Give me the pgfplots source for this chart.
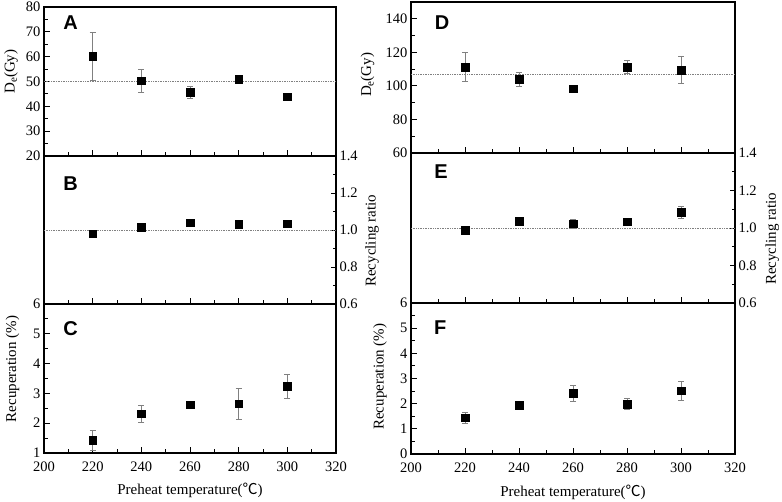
\documentclass[border=0pt]{standalone}
\usepackage{pgfplots}
\pgfplotsset{compat=1.18}
\usepackage{fontspec}
\setmainfont{Liberation Serif}
\newfontfamily\arialbf{Liberation Sans}[BoldFont={Liberation Sans Bold}]
\newfontfamily\cjk{Noto Sans CJK SC}
\newcommand\ticksize{\fontsize{14.5}{16}\selectfont}
\newcommand\labsize{\fontsize{15}{17}\selectfont}
\newcommand\De{D\raisebox{-0.35ex}{\fontsize{11}{11}\selectfont e}(Gy)}
\pgfplotsset{
  panel/.style={
    scale only axis, xmin=200, xmax=320,
    xtick={200,220,...,320}, minor xtick={210,230,...,310},
    tick align=inside, xtick pos=lower,
    axis line style={line width=1.2pt},
    every tick/.style={black, line width=0.9pt},
    major tick length=5.5pt, minor tick length=3.5pt,
    tick label style={font=\ticksize},
    xticklabel style={inner ysep=0.5pt, yshift=-8pt},
    yticklabel style={inner ysep=0.5pt},
    label style={font=\labsize},
    /pgf/number format/assume math mode=true,
    clip=false,
  },
  pts/.style={only marks, mark=square*, mark size=3.8pt, black,
    error bars/.cd, y dir=both, y explicit,
    error bar style={gray, line width=0.7pt},
    error mark options={rotate=90, mark size=3pt, line width=0.7pt, gray}},
  refl/.style={gray, densely dotted, line width=0.7pt, forget plot},
}
\newcommand\panellabel[3]{\node[font=\arialbf\bfseries\fontsize{20}{22}\selectfont, anchor=center] at (rel axis cs:#1,#2) {#3};}
\begin{document}
\begin{tikzpicture}
\path[use as bounding box] (0,0) rectangle (782pt,502pt);
% ---------------- A
\begin{axis}[panel, at={(44pt,346pt)}, anchor=south west, width=292pt, height=149pt,
  ymin=20, ymax=80, ytick={20,30,...,80}, minor ytick={25,35,...,75}, ytick pos=left, xticklabels={},
  ylabel={\De},
  ylabel style={at={(axis description cs:-0.113,0.566)}, anchor=center}]
\addplot[refl] coordinates {(200,50) (320,50)};
\addplot[pts] table[x=x, y=y, y error=e] {
x y e
220 60.1 9.6
240 50.3 4.7
260 45.7 2.5
280 50.9 0.8
300 43.8 1.3
};
\panellabel{0.091}{0.896}{A}
\end{axis}
% ---------------- B
\begin{axis}[panel, at={(44pt,198pt)}, anchor=south west, width=292pt, height=148pt,
  ymin=0.6, ymax=1.4, ytick={0.6,0.8,1.0,1.2,1.4}, minor ytick={0.7,0.9,1.1,1.3},
  ytick pos=right, yticklabel pos=right,
  yticklabel style={/pgf/number format/.cd, fixed, fixed zerofill, precision=1},
  xticklabels={},
  ylabel={Recycling ratio},
  ylabel style={at={(axis description cs:1.123,0.428)}, anchor=center}]
\addplot[refl] coordinates {(200,1) (320,1)};
\addplot[pts] table[x=x, y=y, y error=e] {
x y e
220 0.980 0.015
240 1.014 0.008
260 1.039 0.008
280 1.030 0.008
300 1.034 0.008
};
\panellabel{0.091}{0.816}{B}
\end{axis}
% ---------------- C
\begin{axis}[panel, at={(44pt,49pt)}, anchor=south west, width=292pt, height=149pt,
  ymin=1, ymax=6, ytick={1,2,3,4,5,6}, minor ytick={1.5,2.5,...,5.5}, ytick pos=left,
  ylabel={Recuperation (\%)},
  ylabel style={at={(axis description cs:-0.108,0.564)}, anchor=center},
  xlabel={Preheat temperature({\cjk ℃})},
  xlabel style={at={(axis description cs:0.5,-0.248)}, anchor=center}]
\addplot[pts] table[x=x, y=y, y error=e] {
x y e
220 1.42 0.33
240 2.32 0.29
260 2.62 0.05
280 2.65 0.53
300 3.24 0.40
};
\panellabel{0.091}{0.837}{C}
\end{axis}
% ---------------- D
\begin{axis}[panel, at={(411pt,349pt)}, anchor=south west, width=324pt, height=151pt,
  ymin=60, ymax=150, ytick={60,80,...,140}, minor ytick={70,90,...,150}, ytick pos=left, xticklabels={},
  ylabel={\De},
  ylabel style={at={(axis description cs:-0.134,0.517)}, anchor=center}]
\addplot[refl] coordinates {(200,107) (320,107)};
\addplot[pts] table[x=x, y=y, y error=e] {
x y e
220 111.3 8.5
240 104.0 4.2
260 98.4 1.5
280 111.3 4.0
300 109.5 7.9
};
\panellabel{0.096}{0.864}{D}
\end{axis}
% ---------------- E
\begin{axis}[panel, at={(411pt,199pt)}, anchor=south west, width=324pt, height=150pt,
  ymin=0.6, ymax=1.4, ytick={0.6,0.8,1.0,1.2,1.4}, minor ytick={0.7,0.9,1.1,1.3},
  ytick pos=right, yticklabel pos=right,
  yticklabel style={/pgf/number format/.cd, fixed, fixed zerofill, precision=1},
  xticklabels={},
  ylabel={Recycling ratio},
  ylabel style={at={(axis description cs:1.115,0.427)}, anchor=center}]
\addplot[refl] coordinates {(200,1) (320,1)};
\addplot[pts] table[x=x, y=y, y error=e] {
x y e
220 0.988 0.010
240 1.035 0.010
260 1.023 0.023
280 1.033 0.008
300 1.083 0.033
};
\panellabel{0.093}{0.875}{E}
\end{axis}
% ---------------- F
\begin{axis}[panel, at={(411pt,48pt)}, anchor=south west, width=324pt, height=151pt,
  ymin=0, ymax=6, ytick={0,1,2,3,4,5,6}, minor ytick={0.5,1.5,...,5.5}, ytick pos=left,
  ylabel={Recuperation (\%)},
  ylabel style={at={(axis description cs:-0.096,0.512)}, anchor=center},
  xlabel={Preheat temperature({\cjk ℃})},
  xlabel style={at={(axis description cs:0.5,-0.252)}, anchor=center}]
\addplot[pts] table[x=x, y=y, y error=e] {
x y e
220 1.44 0.22
240 1.93 0.05
260 2.42 0.32
280 1.99 0.21
300 2.51 0.36
};
\panellabel{0.09}{0.839}{F}
\end{axis}
\end{tikzpicture}
\end{document}
